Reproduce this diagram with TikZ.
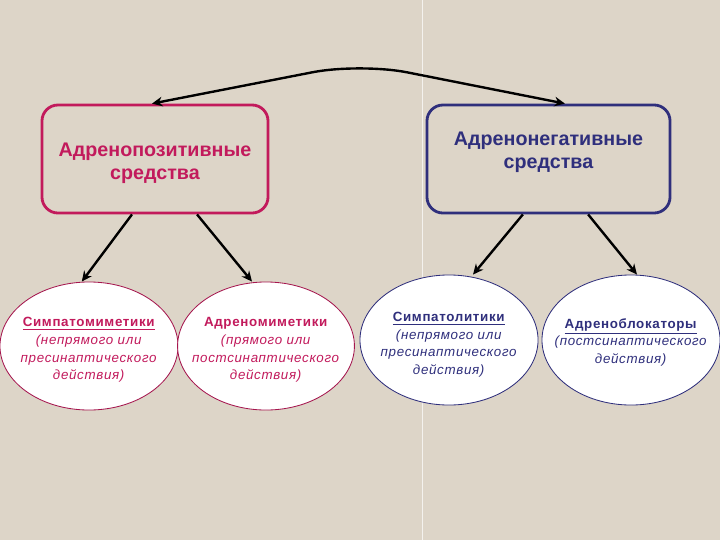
\documentclass[tikz,border=0pt]{standalone}
\usepackage{fontspec}
\setmainfont{Liberation Sans}
\usetikzlibrary{arrows.meta,shapes.geometric}
\definecolor{bg}{HTML}{DDD5C8}
\definecolor{pos}{HTML}{C21A5C}
\definecolor{neg}{HTML}{2F2F7C}
\tikzset{
  >={Stealth[length=2.6mm,width=2.4mm]},
  gbox/.style={draw,rounded corners=4mm,line width=2pt,minimum height=2.7cm},
  pbox/.style={gbox,draw=pos,minimum width=5.65cm},
  nbox/.style={gbox,draw=neg,minimum width=6.075cm},
  hd/.style={font=\bfseries\fontsize{14}{16.5}\selectfont,align=center},
  ell/.style={ellipse,fill=white,line width=0.6pt,inner sep=0pt},
  pell/.style={ell,draw=pos!85!black},
  nell/.style={ell,draw=neg},
  etxt/.style={align=center,inner sep=0pt,
    font=\fontsize{9.5}{12.5}\selectfont\addfontfeature{LetterSpace=5}},
  arr/.style={->,line width=1.7pt,black},
}
\begin{document}
\begin{tikzpicture}[x=0.025cm,y=-0.025cm]
% background
\fill[bg] (0,0) rectangle (720,540);
\useasboundingbox (0,0) rectangle (720,540);
\draw[white,opacity=0.7,line width=0.6pt] (422,0) -- (422,540);
% top level
\node[pbox] (lp) at (155,159) {};
\node[hd,text=pos] (lt) at (155,163) {Адренопозитивные\\средства};
\node[nbox] (rn) at (548.5,159) {};
\node[hd,text=neg] (rt) at (548.5,152.5) {Адренонегативные\\средства};
% second level
\node[pell,minimum width=4.45cm,minimum height=3.2cm] (e1) at (89,346) {};
\node[etxt,text=pos] (t1) at ([yshift=-0.1cm]e1.center)
  {\underline{\textbf{Симпатомиметики}}\\\textit{(непрямого или}\\\textit{пресинаптического}\\\textit{действия)}};
\node[pell,minimum width=4.42cm,minimum height=3.2cm] (e2) at (266,346) {};
\node[etxt,text=pos] (t2) at ([yshift=-0.1cm]e2.center)
  {\textbf{Адреномиметики}\\\textit{(прямого или}\\\textit{постсинаптического}\\\textit{действия)}};
\node[nell,minimum width=4.45cm,minimum height=3.25cm] (e3) at (449,340) {};
\node[etxt,text=neg] (t3) at ([yshift=-0.12cm]e3.center)
  {\underline{\textbf{Симпатолитики}}\\\textit{(непрямого или}\\\textit{пресинаптического}\\\textit{действия)}};
\node[nell,minimum width=4.45cm,minimum height=3.25cm] (e4) at (631,340) {};
\node[etxt,text=neg] (t4) at ([yshift=-0.06cm]e4.center)
  {\underline{\textbf{Адреноблокаторы}}\\\textit{(постсинаптического}\\\textit{действия)}};
% connectors
\draw[arr,<->,rounded corners=1.2cm] ([xshift=-0.075cm]lp.north) -- (360,63)
  -- ([xshift=0.41cm]rn.north);
\draw[arr] ([xshift=-0.575cm]lp.south) -- ([xshift=-0.18cm]e1.north);
\draw[arr] ([xshift=1.05cm]lp.south) -- ([xshift=-0.35cm]e2.north);
\draw[arr] ([xshift=-0.64cm]rn.south) -- ([xshift=0.6cm]e3.north);
\draw[arr] ([xshift=0.99cm]rn.south) -- ([xshift=0.15cm]e4.north);
\end{tikzpicture}
\end{document}
